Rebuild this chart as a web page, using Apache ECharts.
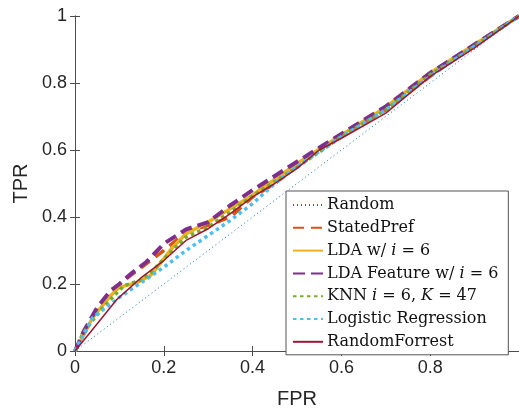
<!DOCTYPE html>
<html><head><meta charset="utf-8">
<script src="https://cdn.jsdelivr.net/npm/echarts@6/dist/echarts.min.js"></script>
<style>html,body{margin:0;padding:0;background:#fff}#c{width:519px;height:414px}</style>
</head><body><div id="c"></div>
<script>
var xTicks = [0, 0.2, 0.4, 0.6, 0.8, 1];
var yTicks = [0, 0.2, 0.4, 0.6, 0.8, 1];
var seriesNames = ['Random','StatedPref','LDA w/ i = 6','LDA Feature w/ i = 6','KNN i = 6, K = 47','Logistic Regression','RandomForrest'];

var randomRoc = [[0,0],[1,1]];
var statedPref = [[0,0],[0.02,0.05],[0.04,0.1],[0.075,0.17],[0.1,0.2],[0.14,0.24],[0.2,0.3],[0.25,0.355],[0.3,0.375],[0.35,0.4],[0.4,0.46],[0.45,0.5],[0.5,0.55],[0.55,0.605],[0.6,0.64],[0.7,0.72],[0.8,0.82],[0.9,0.915],[1,1]];
var ldaRoc = [[0,0],[0.04,0.1],[0.08,0.165],[0.1,0.19],[0.14,0.205],[0.17,0.225],[0.2,0.275],[0.22,0.31],[0.25,0.35],[0.3,0.385],[0.35,0.425],[0.4,0.465],[0.5,0.56],[0.6,0.645],[0.7,0.728],[0.8,0.83],[0.9,0.915],[1,1]];
var ldaFeature = [[0,0],[0.02,0.06],[0.05,0.13],[0.08,0.18],[0.1,0.2],[0.13,0.235],[0.16,0.265],[0.2,0.32],[0.25,0.363],[0.3,0.385],[0.35,0.435],[0.4,0.48],[0.5,0.565],[0.6,0.648],[0.7,0.73],[0.8,0.83],[0.9,0.915],[1,1]];
var knnRoc = [[0,0],[0.016,0.048],[0.04,0.092],[0.06,0.125],[0.09,0.168],[0.11,0.195],[0.145,0.21],[0.17,0.232],[0.2,0.275],[0.25,0.34],[0.3,0.37],[0.35,0.415],[0.4,0.463],[0.5,0.548],[0.6,0.64],[0.7,0.72],[0.8,0.825],[0.9,0.91],[1,1]];
var logisticRoc = [[0,0],[0.04,0.1],[0.07,0.13],[0.1,0.16],[0.15,0.205],[0.2,0.25],[0.25,0.3],[0.3,0.345],[0.35,0.39],[0.4,0.44],[0.45,0.5],[0.5,0.55],[0.6,0.64],[0.7,0.72],[0.8,0.82],[0.9,0.91],[1,1]];
var forestRoc = [[0,0],[0.04,0.065],[0.095,0.155],[0.15,0.22],[0.2,0.27],[0.25,0.33],[0.3,0.365],[0.35,0.41],[0.4,0.46],[0.45,0.5],[0.5,0.545],[0.55,0.6],[0.6,0.635],[0.7,0.71],[0.8,0.82],[0.9,0.905],[1,1]];

var chart = echarts.init(document.getElementById('c'), null, {renderer:'canvas'});
var axisCol = '#4d4d4d', txtCol = '#262626';
var sansF = '"Liberation Sans", Arial, sans-serif';
var serifF = '"DejaVu Serif", "Liberation Serif", serif';
function mk(name, data, color, width, type, z){
  return {name:name, type:'line', data:data, showSymbol:false, symbol:'none', animation:false, z:z,
    lineStyle:{color:color, width:width, type:type, cap:'butt'}, itemStyle:{color:color}};
}
var legendNames = {
  'Random':'{n|Random}',
  'StatedPref':'{n|StatedPref}',
  'LDA w/ i = 6':'{n|LDA w/ }{i|i}{n| = 6}',
  'LDA Feature w/ i = 6':'{n|LDA Feature w/ }{i|i}{n| = 6}',
  'KNN i = 6, K = 47':'{n|KNN }{i|i}{n| = 6, }{i|K}{n| = 47}',
  'Logistic Regression':'{n|Logistic Regression}',
  'RandomForrest':'{n|RandomForrest}'
};
chart.setOption({
  animation:false,
  backgroundColor:'#fff',
  grid:{left:75, top:16, width:445, height:347.5, containLabel:false},
  xAxis:[{type:'value', min:xTicks[0], max:xTicks[xTicks.length-1], interval:0.2,
    name:'FPR', nameLocation:'middle', nameGap:38, nameTextStyle:{fontFamily:sansF, fontSize:20, color:txtCol},
    axisLine:{show:true, onZero:false, lineStyle:{color:axisCol, width:1}},
    axisTick:{show:true, inside:true, length:5, lineStyle:{color:axisCol}},
    axisLabel:{fontFamily:sansF, fontSize:18, color:txtCol, margin:8, showMaxLabel:false},
    splitLine:{show:false}},
   {type:'value', position:'top', min:0, max:1, interval:0.2,
    axisLine:{show:true, lineStyle:{color:axisCol, width:1}},
    axisTick:{show:true, inside:true, length:5, lineStyle:{color:axisCol}},
    axisLabel:{show:false}, splitLine:{show:false}}],
  yAxis:[{type:'value', min:yTicks[0], max:yTicks[yTicks.length-1], interval:0.2,
    name:'TPR', nameLocation:'middle', nameGap:42, nameRotate:90, nameTextStyle:{fontFamily:sansF, fontSize:20, color:txtCol},
    axisLine:{show:true, onZero:false, lineStyle:{color:axisCol, width:1}},
    axisTick:{show:true, inside:true, length:5, lineStyle:{color:axisCol}},
    axisLabel:{fontFamily:sansF, fontSize:18, color:txtCol, margin:8},
    splitLine:{show:false}},
   {type:'value', position:'right', min:0, max:1, interval:0.2,
    axisLine:{show:true, lineStyle:{color:axisCol, width:1}},
    axisTick:{show:true, inside:true, length:5, lineStyle:{color:axisCol}},
    axisLabel:{show:false}, splitLine:{show:false}}],
  legend:{orient:'vertical', left:286, top:191, itemWidth:30, itemHeight:14, itemGap:6.8,
    padding:[6,10,5,6], borderColor:'#555', borderWidth:1, backgroundColor:'#fff',
    data:seriesNames, itemStyle:{opacity:0},
    formatter:function(n){return legendNames[n];},
    textStyle:{fontFamily:serifF, fontSize:16, color:'#111', padding:[0,0,0,-1],
      rich:{n:{fontFamily:serifF, fontSize:16, color:'#111'}, i:{fontFamily:serifF, fontSize:16, fontStyle:'italic', color:'#111'}}}},
  series:[
    mk(seriesNames[0], randomRoc, '#0072BD', 1, [1,3], 1),
    mk(seriesNames[1], statedPref, '#D95319', 3.5, [11,7], 2),
    mk(seriesNames[2], ldaRoc, '#EDB120', 3.5, 'solid', 3),
    mk(seriesNames[3], ldaFeature, '#7E2F8E', 4, [12,6], 4),
    mk(seriesNames[4], knnRoc, '#77AC30', 3.5, [3.5,3.5], 5),
    mk(seriesNames[5], logisticRoc, '#4DBEEE', 3.5, [3.5,3.5], 6),
    mk(seriesNames[6], forestRoc, '#A2142F', 1.5, 'solid', 7)
  ]
});
</script></body></html>
